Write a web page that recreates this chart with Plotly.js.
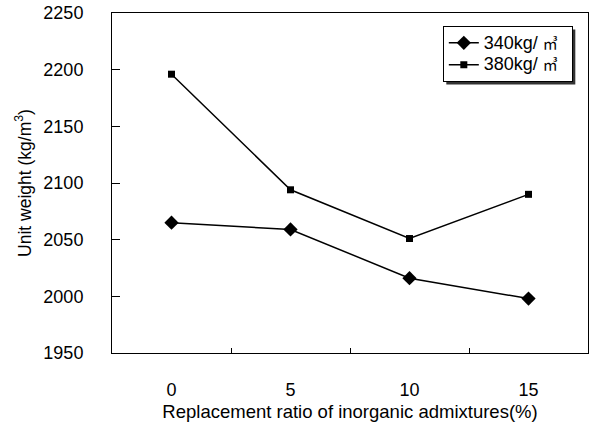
<!DOCTYPE html>
<html>
<head>
<meta charset="utf-8">
<script src="https://cdn.plot.ly/plotly-3.0.1.min.js"></script>
<style>html,body{margin:0;padding:0;background:#fff;}#chart{width:589px;height:432px;}</style>
</head>
<body>
<div id="chart"></div>
<script>
const categories = ["0", "5", "10", "15"];
const series340 = [2065, 2059, 2016, 1998];
const series380 = [2196, 2094, 2051, 2090];
const seriesNames = ["340kg/ ㎥", "380kg/ ㎥"];
const yTicks = [1950, 2000, 2050, 2100, 2150, 2200, 2250];

const fontFam = "Liberation Sans, Arial, sans-serif";
const unitFont = "Noto Sans CJK KR";
function legendLabel(s) {
  const parts = s.split("㎥");
  return '<span style="font-size:18px">' + parts[0] + '</span>' +
    '<span style="font-family:' + unitFont + ';font-size:15px">㎥</span>&nbsp;&nbsp;';
}

const traces = [
  {
    x: categories, y: series340, name: legendLabel(seriesNames[0]), type: "scatter", mode: "lines+markers",
    line: {color: "#000", width: 1.5},
    marker: {symbol: "diamond", size: 11, color: "#000"}
  },
  {
    x: categories, y: series380, name: legendLabel(seriesNames[1]), type: "scatter", mode: "lines+markers",
    line: {color: "#000", width: 1.5},
    marker: {symbol: "square", size: 7, color: "#000"}
  }
];

const layout = {
  width: 589, height: 432,
  margin: {l: 112, r: 1, t: 13, b: 79},
  paper_bgcolor: "#fff", plot_bgcolor: "#fff",
  font: {family: fontFam, size: 18, color: "#000"},
  showlegend: true,
  legend: {
    x: 0.695, y: 0.962, xanchor: "left", yanchor: "top",
    bgcolor: "#fff", bordercolor: "#000", borderwidth: 1,
    font: {family: fontFam, size: 14.5, color: "#000"},
    tracegroupgap: 0, itemsizing: "trace"
  },
  xaxis: {
    type: "category", range: [-0.5, 3.5],
    tickson: "boundaries", ticks: "inside", ticklen: 5, tickcolor: "#000",
    showline: true, linecolor: "#000", linewidth: 1, mirror: true,
    showgrid: false, zeroline: false,
    ticklabelstandoff: 20,
    tickfont: {family: fontFam, size: 18, color: "#000"},
    title: {text: "Replacement ratio of inorganic admixtures(%)", font: {family: fontFam, size: 18.5, color: "#000"}, standoff: 6}
  },
  yaxis: {
    range: [1950, 2250], tickvals: yTicks, ticktext: yTicks.map(String),
    ticks: "inside", ticklen: 8, tickcolor: "#000",
    showline: true, linecolor: "#000", linewidth: 1, mirror: true,
    showgrid: false, zeroline: false,
    ticklabelstandoff: 24,
    tickfont: {family: fontFam, size: 18, color: "#000"},
    title: {text: "Unit weight (kg/m<sup>3</sup>)", font: {family: fontFam, size: 17.5, color: "#000"}, standoff: 7}
  }
};

Plotly.newPlot("chart", traces, layout, {displayModeBar: false, staticPlot: true}).then(function (gd) {
  // decorative drop shadow behind the legend box
  const bg = gd.querySelector(".legend .bg");
  if (!bg) return;
  const r = bg.getBoundingClientRect();
  const c = gd.getBoundingClientRect();
  const fl = gd._fullLayout, s = fl._size;
  const off = 3;
  const px = function (x) { return (x - c.left - s.l) / s.w; };
  const py = function (y) { return 1 - (y - c.top - s.t) / s.h; };
  return Plotly.relayout(gd, {shapes: [{
    type: "rect", xref: "paper", yref: "paper", layer: "above",
    x0: px(r.left + off), x1: px(r.right + off), y0: py(r.bottom + off), y1: py(r.top + off),
    line: {width: 0}, fillcolor: "#333"
  }]});
});
</script>
</body>
</html>
